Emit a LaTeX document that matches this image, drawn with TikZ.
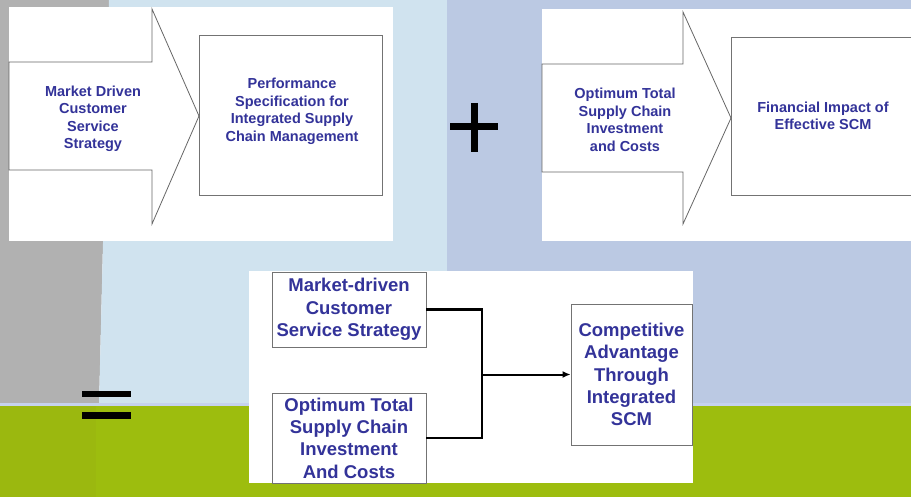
\documentclass[tikz,border=0pt]{standalone}
\usepackage{fontspec}
\setmainfont{Liberation Sans}
\usetikzlibrary{arrows.meta, positioning, calc}
\definecolor{scmtext}{HTML}{333399}
\definecolor{wallgray}{HTML}{B1B1B1}
\definecolor{skylight}{HTML}{D0E3EF}
\definecolor{skyblue}{HTML}{BBC9E3}
\definecolor{grass}{HTML}{9DBD0E}
\definecolor{grassdark}{HTML}{9BB80F}
\definecolor{horizon}{HTML}{C6D2EE}
\tikzset{
  panel/.style={fill=white, draw=none},
  arrowshape/.style={draw=black!60, line width=0.8pt, fill=white},
  box/.style={
    rectangle, draw=black!55, line width=0.8pt, fill=white,
    inner sep=0pt, align=center, text=scmtext,
    font=\bfseries\fontsize{14.5}{17.5}\selectfont
  },
  label/.style={align=center, text=scmtext, inner sep=0pt,
    font=\bfseries\fontsize{14.5}{17.5}\selectfont},
  bigbox/.style={
    box, font=\bfseries\fontsize{18.5}{22.3}\selectfont
  },
  link/.style={draw=black, line width=2.3pt},
  sign/.style={draw=black, line width=6.5pt}
}

\begin{document}
\begin{tikzpicture}[x=1pt, y=-1pt]
\useasboundingbox (0,0) rectangle (911,497);
\clip (0,0) rectangle (911,497);

% background
\fill[wallgray] (0,0) -- (109,0) -- (99,406) -- (0,406) -- cycle;
\fill[skylight] (109,0) -- (447,0) -- (447,406) -- (99,406) -- cycle;
\fill[skyblue] (447,0) rectangle (911,406);
\fill[grass] (0,406) rectangle (911,497);
\fill[grassdark] (0,406) rectangle (96,497);
\fill[horizon] (0,403) rectangle (911,406);

% first panel
\fill[panel] (9,7) rectangle (393,241);
\draw[arrowshape] (9,62) -- (152,62) -- (152,9) -- (199,116) -- (152,224)
  -- (152,170) -- (9,170) -- cycle;
\node[label] (market) at (93,119) {Market Driven\\Customer\\Service\\Strategy};
\node[box, minimum width=183pt, minimum height=160pt] (perf) at (290.5,115) {};
\node[label] (perftext) at (292,111.5)
  {Performance\\Specification for\\Integrated Supply\\Chain Management};

% plus
\draw[sign, line width=7pt] (450,127) -- (498,127);
\draw[sign, line width=7pt] (474,103) -- (474,152);

% second panel
\fill[panel] (542,9) rectangle (920,241);
\draw[arrowshape] (542,64) -- (683,64) -- (683,12) -- (731,118) -- (683,224)
  -- (683,172) -- (542,172) -- cycle;
\node[label] (optimum) at (625,120) {Optimum Total\\Supply Chain\\Investment\\and Costs};
\node[box, minimum width=184pt, minimum height=158pt] (impact) at (823,116)
  {Financial Impact of\\Effective SCM};

% equals
\draw[sign] (82,394) -- (131,394);
\draw[sign] (82,415.5) -- (131,415.5);

% result panel
\fill[panel] (249,271) rectangle (693,483);
\begin{scope}
\clip (249,271) rectangle (693,483);
\node[bigbox, minimum width=154pt, minimum height=75pt] (service) at (349,309.5)
  {Market-driven\\Customer\\Service Strategy};
\node[bigbox, minimum width=154pt, minimum height=90pt] (invest) at (349,438)
  {Optimum Total\\Supply Chain\\Investment\\And Costs};
\end{scope}
\node[bigbox, minimum width=121pt, minimum height=141pt] (advantage) at (631.5,374.5)
  {Competitive\\Advantage\\Through\\Integrated\\SCM};

\coordinate (join) at (482,374.5);
\draw[link] (service.east) -| (join) |- (invest.east);
\draw[link, line width=2pt, -{Latex[length=8pt, width=7pt]}] (join) -- (advantage.west);
\end{tikzpicture}
\end{document}
